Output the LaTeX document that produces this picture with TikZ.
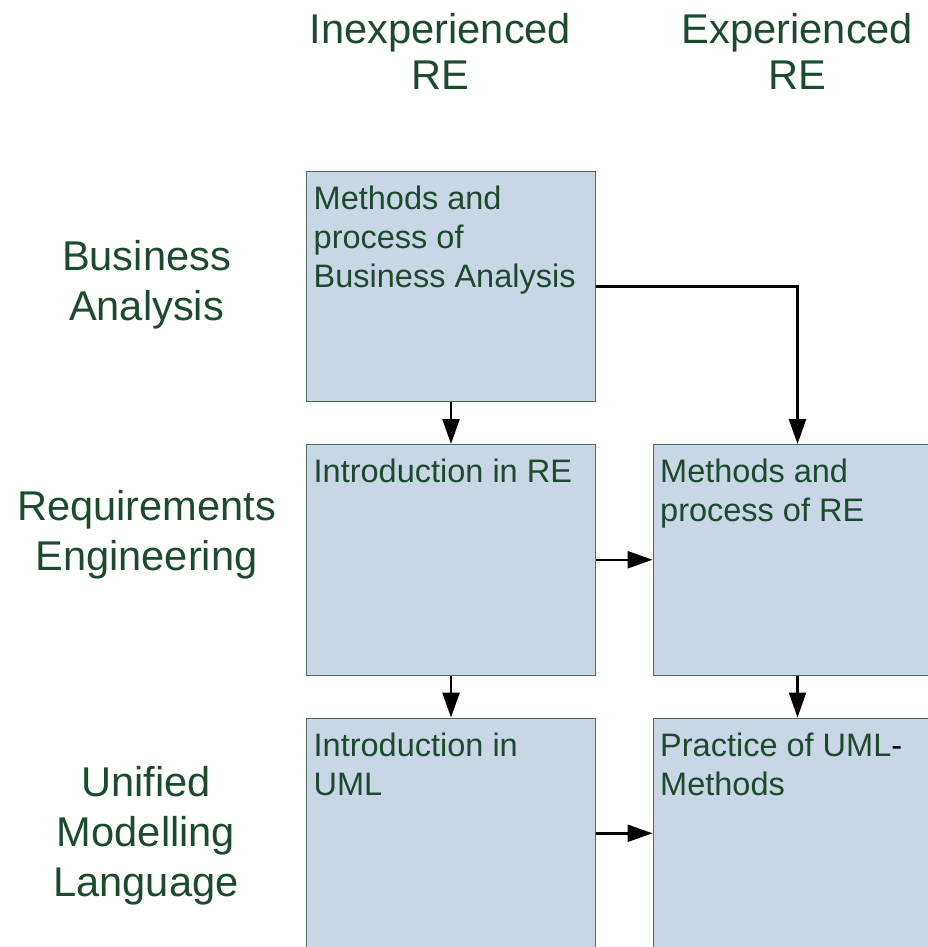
\documentclass[tikz,border=0pt]{standalone}
\usepackage{fontspec}
\setmainfont{Liberation Sans}
\usepackage{tikz}
\usetikzlibrary{arrows.meta,positioning}
\definecolor{textgreen}{HTML}{1B4A2C}
\definecolor{boxfill}{HTML}{C9D6E6}
\definecolor{boxline}{HTML}{4D6D5C}
\tikzset{
    course/.style ={
        shape=rectangle,
        draw=boxline,
        fill=boxfill,
        line width=1pt,
        minimum width=289pt,
        minimum height=230.5pt,
        inner sep=0pt
    },
    coursetext/.style ={
        anchor=north west,
        inner sep=0pt,
        align=left,
        text=textgreen,
        font=\fontsize{32.5pt}{39pt}\selectfont
    },
    heading/.style ={
        anchor=north,
        inner sep=0pt,
        align=center,
        text=textgreen,
        font=\fontsize{41.6pt}{46pt}\selectfont
    },
    topic/.style ={
        anchor=north,
        inner sep=0pt,
        align=center,
        text=textgreen,
        font=\fontsize{41.6pt}{50pt}\selectfont
    },
    flow/.style ={
        draw=black,
        line width=2.5pt,
        -{Triangle[length=25pt,width=17pt]}
    }
}
\begin{document}
\begin{tikzpicture}[x=1pt,y=-1pt]
    \useasboundingbox (0,0) rectangle (928,947);
    \node[heading] (inexp) at (440.5,13) {Inexperienced\\RE};
    \node[heading] (exp) at (797.5,13) {Experienced\\RE};
    \node[topic] (business) at (146.5,240) {Business\\Analysis};
    \node[topic] (requirements) at (146.5,490) {Requirements\\Engineering};
    \node[topic] (uml) at (146,766) {Unified\\Modelling\\Language};
    \node[course] (ba) at (451,286.25) {};
    \node[coursetext] at ([shift={(7.5,15)}]ba.north west) {Methods and\\process of\\Business Analysis};
    \node[course] (ire) at (451,559.75) {};
    \node[coursetext] at ([shift={(7.5,15)}]ire.north west) {Introduction in RE};
    \node[course] (mre) at (797.5,559.75) {};
    \node[coursetext] at ([shift={(7.5,15)}]mre.north west) {Methods and\\process of RE};
    \node[course] (iuml) at (451,833.25) {};
    \node[coursetext] at ([shift={(7.5,15)}]iuml.north west) {Introduction in\\UML};
    \node[course] (puml) at (797.5,833.25) {};
    \node[coursetext] at ([shift={(7.5,15)}]puml.north west) {Practice of UML\textcolor{black}{-}\\Methods};
    \draw[flow] (ba.south) -- (ire.north);
    \draw[flow] (ba.east) -| (mre.north);
    \draw[flow] (ire.east) -- (mre.west);
    \draw[flow] (ire.south) -- (iuml.north);
    \draw[flow] (mre.south) -- (puml.north);
    \draw[flow] (iuml.east) -- (puml.west);
\end{tikzpicture}
\end{document}
